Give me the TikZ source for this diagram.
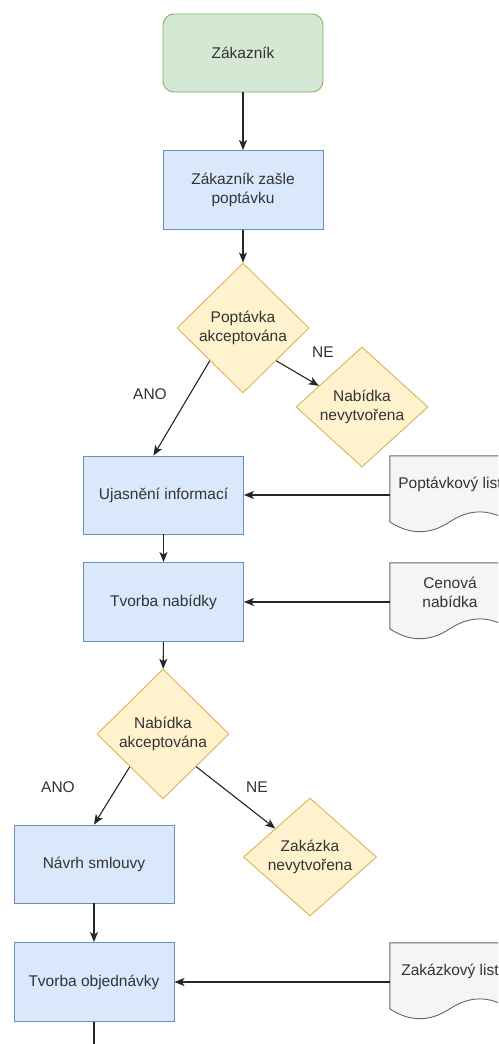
\documentclass[tikz,border=0pt]{standalone}
\usepackage{fontspec}
\setmainfont{Liberation Sans}
\usetikzlibrary{shapes.geometric,arrows.meta,calc}
\definecolor{greenF}{HTML}{D5E8D4}\definecolor{greenD}{HTML}{82B366}
\definecolor{blueF}{HTML}{DAE8FC}\definecolor{blueD}{HTML}{6C8EBF}
\definecolor{yelF}{HTML}{FFF2CC}\definecolor{yelD}{HTML}{D6B656}
\definecolor{docF}{HTML}{F5F5F5}\definecolor{docD}{HTML}{666666}
\definecolor{txt}{HTML}{333333}
\tikzset{
  base/.style={font=\fontsize{15.5}{19}\selectfont, text=txt, align=center, inner sep=0pt},
  startbox/.style={base, draw=greenD, fill=greenF, rounded corners=11pt, minimum width=160pt, minimum height=78pt, line width=0.9pt},
  procbox/.style={base, draw=blueD, fill=blueF, minimum width=160pt, minimum height=79pt, line width=0.9pt},
  decision/.style={base, shape=diamond, draw=yelD, fill=yelF, line width=0.9pt},
  docnode/.style={base, minimum width=120pt, minimum height=78pt},
  docline/.style={draw=docD, fill=docF, line width=0.9pt},
  lbl/.style={base, text=txt},
  arr/.style={draw=black!85, line width=1.1pt, -{Stealth[length=10pt,width=8pt,inset=2.5pt]}},
  plain/.style={draw=black!85, line width=1.1pt}
}
\newcommand\docoutline[1]{%
  \begin{scope}[shift={(#1.north west)}]
    \path[docline] (0,0) -- (120,0) -- (120,66)
      .. controls (100,52.8) and (80,52.8) .. (60,66)
      .. controls (40,79.2) and (20,79.2) .. (0,66) -- cycle;
  \end{scope}}
\begin{document}
\begin{tikzpicture}[x=1pt,y=-1pt]
\useasboundingbox (0,0) rectangle (498,1044);
\clip (0,0) rectangle (498,1044);
\fill[white] (0,0) rectangle (498,1044);

\node[startbox] (zak) at (243,53) {Zákazník};
\node[procbox] (posle) at (243,190) {Zákazník zašle\\poptávku};
\node[decision, minimum width=132pt, minimum height=130pt] (d1) at (243,328) {Poptávka\\akceptována};
\node[decision, minimum width=132pt, minimum height=120pt] (d2) at (362,407) {Nabídka\\nevytvořena};
\node[procbox, minimum height=78pt] (ujas) at (163.5,495) {Ujasnění informací};
\node[procbox] (tvnab) at (163.5,602) {Tvorba nabídky};
\node[decision, minimum width=132pt, minimum height=130pt] (d3) at (163,734) {Nabídka\\akceptována};
\node[decision, minimum width=133pt, minimum height=117pt] (d4) at (310,857) {Zakázka\\nevytvořena};
\node[procbox, minimum height=78pt] (navrh) at (94,864) {Návrh smlouvy};
\node[procbox] (objed) at (94,982) {Tvorba objednávky};

% documents
\node[docnode] (doc1) at (450,495) {};
\docoutline{doc1}
\node[lbl] (doc1t) at ([yshift=11pt]doc1.center) {Poptávkový list};
\node[docnode] (doc2) at (450,602) {};
\docoutline{doc2}
\node[lbl] (doc2t) at ([yshift=10pt]doc2.center) {Cenová\\nabídka};
\node[docnode] (doc3) at (450,982) {};
\docoutline{doc3}
\node[lbl] (doc3t) at ([yshift=11pt]doc3.center) {Zakázkový list};

% connectors
\draw[arr] (zak) -- (posle);
\draw[arr] (posle) -- (d1);
\draw[arr] (d1.south west) -- ([xshift=-10pt]ujas.north);
\draw[arr] (d1.south east) -- ($(d2.west)!0.35!(d2.north)$);
\draw[arr] (doc1.west) -- (ujas.east);
\draw[arr] (ujas) -- (tvnab);
\draw[arr] (doc2.west) -- (tvnab.east);
\draw[arr] (tvnab) -- (d3);
\draw[arr] (d3.south west) -- (navrh.north);
\draw[arr] (d3.south east) -- ($(d4.west)!0.48!(d4.north)$);
\draw[arr] (navrh) -- (objed);
\draw[arr] (doc3.west) -- (objed.east);
\coordinate (bottomend) at (94,1050);
\draw[plain] (objed.south) -- (bottomend);

% labels
\node[lbl] (ne1) at (323,352) {NE};
\node[lbl] (ano1) at (150,394) {ANO};
\node[lbl] (ano2) at (58,787) {ANO};
\node[lbl] (ne2) at (257,787) {NE};
\end{tikzpicture}
\end{document}
